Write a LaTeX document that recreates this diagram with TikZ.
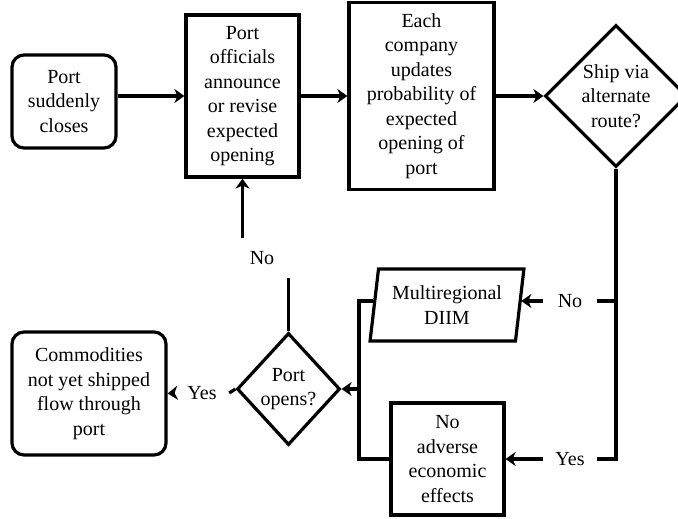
\documentclass[tikz,border=0pt]{standalone}
\usepackage{fontspec}
\setmainfont{Liberation Serif}
\usetikzlibrary{shapes.geometric,arrows.meta}
\begin{document}
\begin{tikzpicture}
      [%%%%%%%%%%%%%%%%%%%%%%%%%%%%%%
      x=1pt, y=-1pt,
      every node/.style={font=\fontsize{20}{24.5}\selectfont, align=center},
      box/.style={rectangle,draw=black,line width=3.2pt, inner sep=0pt},
      rbox/.style={box, rounded corners=12pt},
      decision/.style={diamond,draw=black,line width=3.2pt, inner sep=0pt},
      iobox/.style={trapezium, trapezium left angle=80, trapezium right angle=100,
                    trapezium stretches=true, draw=black, line width=3.2pt, inner sep=0pt},
      answer/.style={minimum width=54pt, inner sep=0pt},
      flow/.style={line width=3.2pt},
      arr/.style={flow, -{Stealth[length=10pt,width=14pt,inset=3pt]}},
      ]%%%%%%%%%%%%%%%%%%%%%%%%%%%%%%
      \useasboundingbox (0,0) rectangle (678,519);

      \node[rbox, minimum width=104pt, minimum height=93pt] (closes) at (64,101.5) {Port\\suddenly\\closes};
      \node[box, minimum width=113pt, minimum height=162pt] (officials) at (242.5,96) {Port\\officials\\announce\\or revise\\expected\\opening};
      \node[box, minimum width=145pt, minimum height=187pt] (company) at (421.5,96) {Each\\company\\updates\\probability of\\expected\\opening of\\port};
      \node[decision, minimum width=142pt, minimum height=142pt] (ship) at (616,96) {Ship via\\alternate\\route?};
      \node[iobox, minimum width=154pt, minimum height=72pt] (multi) at (447,305) {Multiregional\\DIIM};
      \node[box, minimum width=113pt, minimum height=112pt] (noeffect) at (447.5,459) {No\\adverse\\economic\\effects};
      \node[decision, minimum width=103pt, minimum height=112pt] (opens) at (288.5,389) {Port\\opens?};
      \node[rbox, minimum width=154pt, minimum height=123pt] (commod) at (89,393.5) {Commodities\\not yet shipped\\flow through\\port};

      % answers on the branches
      \node[answer] (noR) at (570,301) {No};
      \node[answer] (yesR) at (570,459) {Yes};
      \node[answer] (noL) at (262,258) {No};
      \node[answer] (yesL) at (202,393) {Yes};
      \coordinate (join) at (359,389);
      \coordinate (loopend) at (288.5,278);
      \coordinate (loopstart) at (242.5,238);

      \draw[arr] (closes.east |- officials) -- (officials.west);
      \draw[arr] (officials.east) -- (company.west);
      \draw[arr] (company.east) -- (ship.west);
      \draw[flow] (ship.south) |- (noR.east);
      \draw[flow] (ship.south) |- (yesR.east);
      \draw[arr] (noR.west) -- (noR.west -| multi.east);
      \draw[arr] (yesR.west) -- (noeffect.east);
      \draw[flow] (noR -| multi.west) -| (join) |- (noeffect.west);
      \draw[arr] (join) -- (opens.east);
      \draw[flow] (opens.north) -- (loopend);
      \draw[arr] (loopstart) -- (officials.south);
      \draw[flow] (opens.west) -- (yesL.east);
      \draw[arr] (yesL.west) -- (commod.east);
    \end{tikzpicture}
\end{document}
